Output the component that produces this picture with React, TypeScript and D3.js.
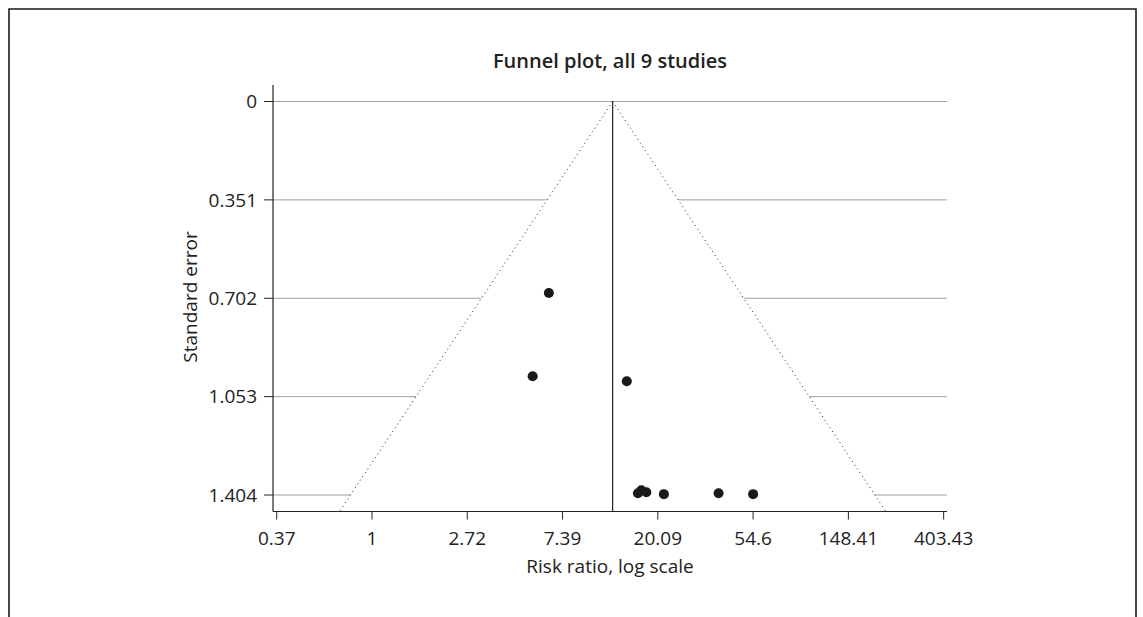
import React from "react";
import * as d3 from "d3";

// Data (risk ratio, standard error)
const studyRR: number[] = [6.4, 5.4, 14.5, 16.3, 16.9, 17.8, 21.4, 38.0, 54.6];
const studySE: number[] = [0.683, 0.98, 0.998, 1.398, 1.387, 1.394, 1.401, 1.398, 1.401];
const pooledRR = 12.5;

const xTickValues: number[] = [-1, 0, 1, 2, 3, 4, 5, 6].map((k) => Math.exp(k));
const xTickLabels: string[] = ["0.37", "1", "2.72", "7.39", "20.09", "54.6", "148.41", "403.43"];
const yTickValues: number[] = [0, 0.351, 0.702, 1.053, 1.404];
const yTickLabels: string[] = ["0", "0.351", "0.702", "1.053", "1.404"];

const titleText = "Funnel plot, all 9 studies";
const xTitle = "Risk ratio, log scale";
const yTitle = "Standard error";

const W = 1143;
const H = 617;
const left = 273;
const right = 947;
const top = 85;
const bottom = 511.5;

export default function App() {
  const x = d3.scaleLog().domain([Math.exp(-1.039), Math.exp(6.035)]).range([left, right]);
  const y = d3.scaleLinear().domain([0, 1.404]).range([101.5, 495]);
  const seMax = y.invert(bottom);
  const lc = Math.log(pooledRR);
  const apex: [number, number] = [x(pooledRR), y(0)];
  const bl: [number, number] = [x(Math.exp(lc - 1.96 * seMax)), bottom];
  const br: [number, number] = [x(Math.exp(lc + 1.96 * seMax)), bottom];
  const tri = d3.line()([apex, bl, br, apex]) as string;
  const font = "'Open Sans', 'Noto Sans', sans-serif";
  const fs = 19;

  return (
    <svg
      width={W}
      height={H}
      style={{ position: "absolute", left: 0, top: 0, background: "#fff" }}
      fontFamily={font}
    >
      <rect x={0} y={0} width={W} height={H} fill="#fff" />
      {/* frame */}
      <path d={`M9,${H} V9 H1136 V${H}`} fill="none" stroke="#1a1a1a" strokeWidth={1.6} />
      {/* title */}
      <text x={(left + right) / 2} y={68} textAnchor="middle" fontSize={20} fontWeight={600} fill="#222">
        {titleText}
      </text>
      {/* gridlines */}
      {yTickValues.map((v, i) => (
        <line key={"g" + i} x1={left} x2={right} y1={y(v)} y2={y(v)} stroke="#a0a0a0" strokeWidth={1} />
      ))}
      {/* funnel area */}
      <path d={tri} fill="#fff" stroke="none" />
      <line x1={apex[0]} y1={apex[1]} x2={bl[0]} y2={bl[1]} stroke="#222" strokeWidth={1} strokeDasharray="1 3.5" />
      <line x1={apex[0]} y1={apex[1]} x2={br[0]} y2={br[1]} stroke="#222" strokeWidth={1} strokeDasharray="1 3.5" />
      {/* pooled estimate */}
      <line x1={apex[0]} x2={apex[0]} y1={apex[1]} y2={bottom} stroke="#222" strokeWidth={1.2} />
      {/* studies */}
      {studyRR.map((r, i) => (
        <circle key={"p" + i} cx={x(r)} cy={y(studySE[i])} r={5} fill="#1a1a1a" />
      ))}
      {/* y axis */}
      <line x1={left} x2={left} y1={top} y2={bottom} stroke="#222" strokeWidth={1.2} />
      {yTickValues.map((v, i) => (
        <g key={"yt" + i}>
          <line x1={left - 9} x2={left} y1={y(v)} y2={y(v)} stroke="#222" strokeWidth={1} />
          <text x={left - 16} y={y(v)} dy="0.35em" textAnchor="end" fontSize={fs} fill="#222">
            {yTickLabels[i]}
          </text>
        </g>
      ))}
      <text
        transform={`translate(197,297) rotate(-90)`}
        textAnchor="middle"
        fontSize={fs}
        fill="#222"
      >
        {yTitle}
      </text>
      {/* x axis */}
      <line x1={left} x2={right} y1={bottom} y2={bottom} stroke="#222" strokeWidth={1.2} />
      {xTickValues.map((v, i) => (
        <g key={"xt" + i}>
          <line x1={x(v)} x2={x(v)} y1={bottom} y2={bottom + 8} stroke="#222" strokeWidth={1} />
          <text x={x(v)} y={bottom + 33} textAnchor="middle" fontSize={fs} fill="#222">
            {xTickLabels[i]}
          </text>
        </g>
      ))}
      <text x={(left + right) / 2} y={573} textAnchor="middle" fontSize={fs} fill="#222">
        {xTitle}
      </text>
    </svg>
  );
}
